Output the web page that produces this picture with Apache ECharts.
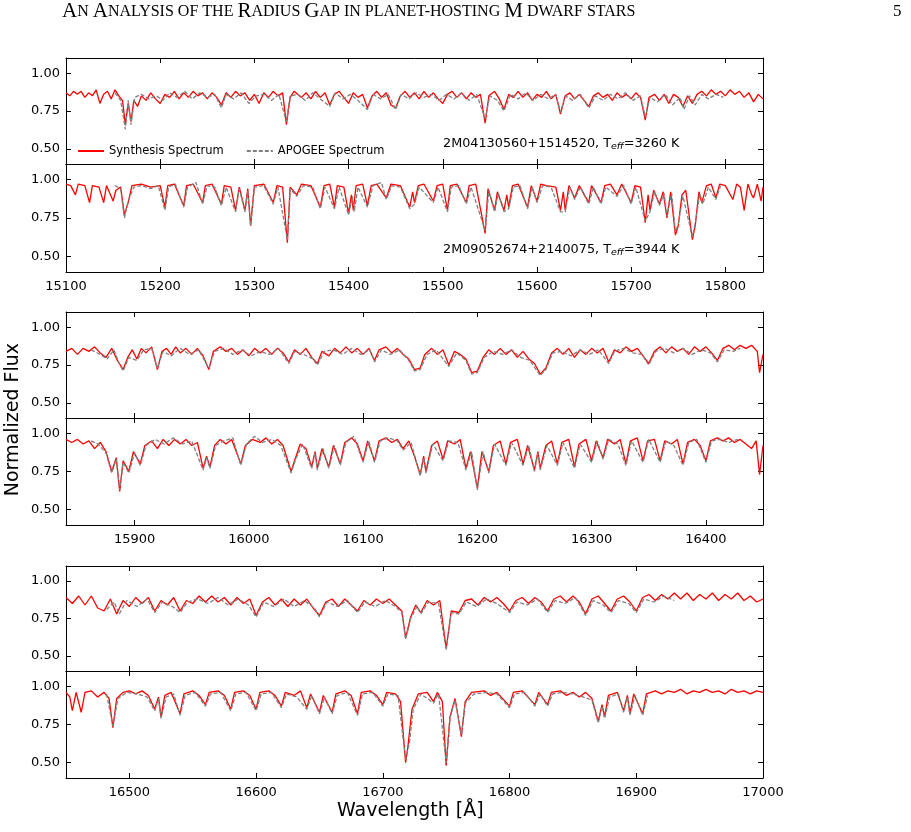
<!DOCTYPE html>
<html>
<head>
<meta charset="utf-8">
<script src="https://cdn.jsdelivr.net/npm/echarts@6/dist/echarts.min.js"></script>
<style>html,body{margin:0;background:#fff}#main{width:911px;height:832px}</style>
</head>
<body>
<div id="main"></div>
<script>
// wavelength ranges of the three rows
var ranges = [[15100, 15840], [15840, 16450], [16450, 17000]];
var xTicks = [
    [15100, 15200, 15300, 15400, 15500, 15600, 15700, 15800],
    [15900, 16000, 16100, 16200, 16300, 16400],
    [16500, 16600, 16700, 16800, 16900, 17000]
];
var yTicks = [0.5, 0.75, 1.0];
var starNames = ['2M04130560+1514520', '2M09052674+2140075'];
var starTeff = [3260, 3944];

// synthesis spectra, [wavelength, flux]; cool star (A) and warm star (B)
var synthA1 = [[15100,.87],[15104,.85],[15108,.88],[15112,.86],[15116,.88],[15120,.84],[15124,.87],[15128,.85],[15132,.89],[15136,.80],[15140,.86],[15144,.88],[15148,.83],[15152,.89],[15156,.85],[15160,.82],[15163,.66],[15166,.80],[15169,.68],[15172,.82],[15176,.78],[15180,.85],[15185,.82],[15190,.87],[15195,.83],[15200,.80],[15205,.86],[15210,.84],[15215,.88],[15220,.83],[15225,.87],[15230,.84],[15235,.88],[15240,.85],[15245,.87],[15250,.83],[15255,.87],[15260,.84],[15265,.79],[15270,.87],[15275,.84],[15280,.88],[15285,.85],[15290,.87],[15295,.82],[15300,.86],[15305,.80],[15310,.87],[15315,.84],[15320,.88],[15325,.85],[15330,.87],[15334,.66],[15338,.84],[15342,.88],[15350,.84],[15355,.87],[15360,.83],[15365,.88],[15370,.84],[15375,.87],[15380,.79],[15385,.86],[15390,.88],[15395,.84],[15400,.80],[15405,.87],[15410,.84],[15415,.86],[15420,.77],[15425,.85],[15430,.88],[15435,.84],[15440,.87],[15445,.79],[15450,.77],[15455,.85],[15460,.88],[15465,.84],[15470,.87],[15475,.83],[15480,.88],[15485,.84],[15490,.87],[15495,.83],[15500,.80],[15505,.86],[15510,.88],[15515,.84],[15520,.87],[15525,.83],[15530,.87],[15535,.84],[15540,.86],[15545,.67],[15549,.85],[15555,.88],[15560,.83],[15565,.76],[15570,.86],[15575,.84],[15580,.88],[15585,.84],[15590,.87],[15595,.82],[15600,.86],[15605,.84],[15610,.88],[15615,.83],[15620,.86],[15625,.73],[15630,.85],[15635,.87],[15640,.83],[15645,.86],[15650,.82],[15655,.78],[15660,.85],[15665,.87],[15670,.84],[15675,.86],[15680,.82],[15685,.87],[15690,.84],[15695,.86],[15700,.83],[15705,.87],[15710,.84],[15715,.69],[15719,.84],[15725,.86],[15730,.82],[15735,.86],[15740,.80],[15745,.86],[15750,.84],[15755,.78],[15760,.85],[15765,.80],[15770,.86],[15775,.88],[15780,.85],[15785,.89],[15790,.86],[15795,.88],[15800,.85],[15805,.89],[15810,.86],[15815,.88],[15820,.84],[15825,.87],[15830,.81],[15835,.86],[15840,.83]];
var synthB1 = [[15100,.97],[15105,.96],[15110,.90],[15113,.97],[15120,.96],[15125,.85],[15128,.96],[15135,.95],[15140,.85],[15143,.96],[15150,.86],[15153,.93],[15158,.95],[15162,.77],[15166,.85],[15170,.96],[15180,.97],[15190,.95],[15200,.96],[15205,.82],[15208,.96],[15215,.97],[15225,.83],[15228,.96],[15235,.97],[15245,.85],[15248,.96],[15255,.97],[15265,.84],[15268,.96],[15275,.95],[15280,.80],[15284,.95],[15290,.80],[15293,.94],[15296,.70],[15300,.96],[15310,.97],[15320,.85],[15324,.96],[15330,.95],[15335,.59],[15338,.95],[15345,.90],[15350,.97],[15360,.96],[15370,.82],[15374,.96],[15380,.97],[15385,.82],[15388,.96],[15395,.95],[15400,.78],[15403,.90],[15405,.80],[15408,.96],[15415,.97],[15420,.83],[15424,.96],[15430,.97],[15440,.88],[15445,.97],[15455,.96],[15465,.82],[15468,.92],[15470,.85],[15474,.96],[15480,.97],[15490,.86],[15494,.96],[15500,.97],[15505,.80],[15508,.96],[15515,.97],[15525,.85],[15528,.96],[15535,.97],[15545,.65],[15548,.94],[15555,.80],[15558,.92],[15565,.80],[15568,.90],[15570,.82],[15574,.96],[15580,.97],[15590,.82],[15594,.96],[15600,.86],[15604,.97],[15610,.96],[15620,.95],[15625,.80],[15628,.92],[15630,.80],[15634,.96],[15640,.88],[15645,.96],[15655,.85],[15658,.96],[15668,.85],[15672,.96],[15678,.97],[15685,.90],[15690,.97],[15700,.85],[15704,.96],[15710,.95],[15715,.72],[15718,.90],[15720,.80],[15724,.93],[15730,.84],[15734,.92],[15738,.75],[15742,.92],[15747,.64],[15750,.70],[15754,.90],[15758,.93],[15765,.61],[15768,.70],[15772,.92],[15775,.85],[15780,.96],[15785,.97],[15790,.88],[15794,.97],[15800,.96],[15808,.87],[15812,.97],[15816,.95],[15820,.80],[15824,.97],[15828,.90],[15830,.88],[15834,.97],[15838,.86],[15840,.95]];
var synthA2 = [[15840,.84],[15845,.86],[15850,.82],[15855,.86],[15860,.84],[15865,.87],[15870,.83],[15875,.80],[15880,.86],[15885,.78],[15890,.72],[15894,.80],[15898,.85],[15902,.79],[15906,.86],[15910,.83],[15915,.87],[15920,.72],[15924,.84],[15928,.86],[15932,.82],[15936,.87],[15940,.83],[15945,.86],[15950,.82],[15955,.86],[15960,.81],[15965,.72],[15969,.84],[15975,.87],[15980,.84],[15985,.86],[15990,.82],[15995,.85],[16000,.81],[16005,.86],[16010,.83],[16015,.86],[16020,.82],[16025,.86],[16030,.83],[16035,.77],[16040,.85],[16045,.82],[16050,.86],[16055,.80],[16060,.76],[16064,.84],[16070,.81],[16075,.86],[16080,.83],[16085,.87],[16090,.83],[16095,.86],[16100,.82],[16105,.86],[16110,.78],[16114,.85],[16120,.87],[16125,.83],[16130,.86],[16135,.82],[16140,.79],[16145,.72],[16150,.73],[16154,.82],[16160,.86],[16165,.82],[16170,.85],[16175,.75],[16180,.84],[16185,.82],[16190,.79],[16195,.70],[16200,.71],[16205,.80],[16210,.85],[16215,.82],[16220,.86],[16225,.82],[16230,.85],[16235,.80],[16240,.84],[16245,.79],[16250,.76],[16255,.69],[16260,.73],[16265,.83],[16270,.86],[16275,.82],[16280,.86],[16285,.80],[16290,.85],[16295,.82],[16300,.86],[16305,.83],[16310,.86],[16315,.77],[16320,.85],[16325,.83],[16330,.87],[16335,.84],[16340,.86],[16345,.81],[16350,.76],[16355,.84],[16360,.87],[16365,.83],[16370,.87],[16375,.84],[16380,.86],[16385,.82],[16390,.87],[16395,.84],[16400,.87],[16405,.83],[16410,.78],[16415,.86],[16420,.88],[16425,.85],[16430,.88],[16435,.86],[16440,.88],[16445,.84],[16447,.70],[16450,.82]];
var synthB2 = [[15840,.96],[15845,.94],[15850,.96],[15855,.93],[15860,.95],[15865,.90],[15870,.94],[15875,.88],[15880,.75],[15884,.84],[15887,.62],[15890,.82],[15895,.75],[15899,.88],[15905,.80],[15909,.92],[15915,.95],[15920,.90],[15925,.96],[15930,.92],[15935,.96],[15940,.93],[15945,.96],[15950,.92],[15955,.94],[15960,.77],[15963,.85],[15966,.78],[15970,.92],[15975,.96],[15980,.93],[15985,.96],[15993,.80],[15997,.92],[16003,.96],[16010,.94],[16015,.97],[16020,.93],[16025,.96],[16030,.92],[16037,.75],[16040,.82],[16045,.93],[16050,.90],[16055,.78],[16058,.88],[16060,.77],[16064,.90],[16070,.78],[16074,.92],[16080,.80],[16084,.94],[16090,.97],[16095,.93],[16100,.82],[16104,.95],[16110,.82],[16114,.95],[16120,.97],[16125,.94],[16130,.96],[16135,.90],[16140,.95],[16145,.85],[16150,.73],[16153,.85],[16155,.75],[16160,.92],[16165,.95],[16170,.83],[16174,.95],[16180,.93],[16185,.96],[16190,.77],[16194,.88],[16200,.64],[16204,.88],[16210,.75],[16214,.92],[16220,.95],[16225,.80],[16229,.94],[16235,.96],[16240,.80],[16244,.92],[16250,.76],[16253,.88],[16255,.77],[16260,.92],[16265,.95],[16270,.80],[16274,.94],[16280,.96],[16285,.78],[16289,.93],[16295,.96],[16300,.82],[16304,.95],[16310,.84],[16314,.96],[16320,.93],[16325,.96],[16330,.80],[16334,.95],[16340,.97],[16345,.82],[16349,.95],[16355,.96],[16360,.82],[16364,.95],[16370,.93],[16375,.96],[16380,.80],[16384,.94],[16390,.96],[16395,.92],[16400,.82],[16404,.95],[16410,.97],[16415,.95],[16420,.97],[16425,.94],[16430,.96],[16435,.93],[16440,.90],[16444,.95],[16447,.73],[16450,.92]];
var synthA3 = [[16450,.89],[16455,.85],[16460,.90],[16465,.84],[16470,.90],[16475,.82],[16480,.80],[16485,.88],[16490,.78],[16495,.87],[16500,.83],[16505,.89],[16510,.85],[16515,.89],[16520,.80],[16525,.87],[16530,.84],[16535,.89],[16540,.80],[16545,.87],[16550,.85],[16555,.90],[16560,.86],[16565,.90],[16570,.86],[16575,.89],[16580,.84],[16585,.89],[16590,.85],[16595,.88],[16600,.77],[16605,.86],[16610,.89],[16615,.84],[16620,.88],[16625,.83],[16630,.88],[16635,.84],[16640,.88],[16645,.82],[16650,.77],[16655,.86],[16660,.88],[16665,.83],[16670,.88],[16675,.84],[16680,.80],[16685,.87],[16690,.84],[16695,.88],[16700,.85],[16705,.88],[16710,.84],[16715,.80],[16718,.62],[16722,.76],[16726,.84],[16730,.79],[16735,.87],[16740,.84],[16745,.87],[16750,.55],[16754,.80],[16760,.79],[16765,.87],[16770,.88],[16775,.84],[16780,.89],[16785,.86],[16790,.89],[16795,.85],[16800,.80],[16805,.87],[16810,.89],[16815,.85],[16820,.89],[16825,.86],[16830,.80],[16835,.88],[16840,.90],[16845,.86],[16850,.90],[16855,.86],[16860,.78],[16865,.88],[16870,.90],[16875,.85],[16880,.80],[16885,.88],[16890,.90],[16895,.86],[16900,.80],[16905,.89],[16910,.91],[16915,.87],[16920,.91],[16925,.88],[16930,.92],[16935,.88],[16940,.92],[16945,.87],[16950,.91],[16955,.88],[16960,.92],[16965,.87],[16970,.91],[16975,.88],[16980,.92],[16985,.87],[16990,.90],[16995,.86],[17000,.88]];
var synthB3 = [[16450,.96],[16453,.93],[16455,.84],[16458,.96],[16462,.83],[16465,.96],[16470,.97],[16475,.93],[16480,.96],[16484,.92],[16487,.73],[16490,.92],[16495,.96],[16500,.97],[16505,.95],[16510,.97],[16515,.94],[16520,.85],[16523,.93],[16525,.80],[16528,.94],[16533,.96],[16540,.82],[16543,.95],[16550,.97],[16555,.94],[16560,.88],[16563,.96],[16570,.97],[16575,.94],[16580,.85],[16583,.96],[16590,.97],[16595,.94],[16600,.85],[16603,.96],[16610,.97],[16615,.94],[16620,.87],[16623,.96],[16630,.94],[16635,.97],[16640,.86],[16643,.95],[16650,.83],[16653,.94],[16660,.83],[16663,.95],[16670,.97],[16675,.94],[16680,.82],[16683,.96],[16690,.97],[16695,.94],[16700,.88],[16703,.96],[16710,.95],[16714,.90],[16718,.50],[16720,.62],[16723,.85],[16728,.95],[16735,.96],[16740,.90],[16743,.96],[16747,.90],[16750,.48],[16753,.80],[16757,.92],[16762,.67],[16765,.90],[16770,.96],[16780,.97],[16785,.94],[16790,.96],[16800,.87],[16803,.96],[16810,.97],[16820,.88],[16823,.96],[16830,.88],[16833,.96],[16840,.97],[16845,.94],[16850,.96],[16855,.93],[16860,.96],[16865,.92],[16870,.77],[16873,.88],[16875,.80],[16878,.94],[16885,.96],[16890,.84],[16893,.94],[16895,.82],[16898,.95],[16905,.82],[16908,.95],[16915,.97],[16920,.95],[16925,.97],[16930,.96],[16935,.98],[16940,.95],[16945,.97],[16950,.96],[16955,.98],[16960,.96],[16965,.97],[16970,.95],[16975,.98],[16980,.96],[16985,.97],[16990,.95],[16995,.97],[17000,.96]];

// APOGEE observed spectra (with chip gaps)
var apogeeA1 = [[15152,.87],[15158,.82],[15163,.63],[15166,.82],[15169,.66],[15173,.84],[15180,.86],[15188,.83],[15196,.85],[15203,.82],[15210,.87],[15218,.84],[15226,.88],[15234,.83],[15242,.87],[15250,.84],[15258,.86],[15265,.77],[15270,.86],[15278,.83],[15286,.87],[15294,.80],[15302,.85],[15310,.86],[15318,.82],[15326,.86],[15334,.68],[15338,.85],[15346,.86],[15354,.82],[15362,.87],[15370,.83],[15380,.78],[15386,.87],[15394,.83],[15402,.86],[15410,.82],[15420,.76],[15426,.86],[15434,.83],[15442,.86],[15450,.76],[15456,.86],[15464,.83],[15472,.87],[15480,.84],[15488,.86],[15496,.82],[15504,.86],[15512,.83],[15520,.87],[15528,.82],[15536,.86],[15545,.70],[15550,.85],[15558,.82],[15565,.75],[15572,.86],[15580,.83],[15588,.87],[15596,.82],[15604,.86],[15612,.83],[15620,.86],[15625,.74],[15630,.85],[15638,.82],[15646,.86],[15655,.77],[15662,.85],[15670,.82],[15678,.86],[15686,.83],[15694,.87],[15702,.82],[15710,.85],[15715,.71],[15720,.84],[15728,.81],[15736,.86],[15744,.79],[15752,.84],[15756,.76],[15762,.85],[15768,.79],[15775,.86],[15782,.83],[15790,.86],[15798,.84]];
var apogeeB1 = [[15152,.96],[15158,.94],[15162,.75],[15166,.86],[15172,.95],[15180,.96],[15190,.94],[15198,.96],[15205,.80],[15209,.95],[15216,.97],[15225,.82],[15229,.95],[15238,.98],[15245,.84],[15250,.96],[15258,.95],[15265,.83],[15270,.95],[15280,.79],[15284,.94],[15290,.79],[15293,.93],[15296,.70],[15300,.95],[15310,.96],[15320,.84],[15325,.95],[15335,.61],[15338,.94],[15345,.89],[15352,.96],[15362,.95],[15370,.81],[15375,.95],[15385,.81],[15390,.95],[15400,.77],[15404,.89],[15406,.79],[15410,.95],[15420,.82],[15426,.96],[15435,.98],[15440,.87],[15446,.96],[15455,.95],[15465,.81],[15470,.84],[15475,.95],[15490,.85],[15495,.95],[15505,.79],[15509,.95],[15517,.96],[15525,.84],[15530,.95],[15545,.67],[15549,.93],[15555,.79],[15559,.91],[15565,.79],[15570,.81],[15575,.95],[15582,.96],[15590,.81],[15595,.95],[15600,.85],[15606,.96],[15615,.95],[15625,.79],[15630,.79],[15635,.95],[15640,.87],[15646,.95],[15655,.84],[15660,.95],[15668,.84],[15673,.95],[15685,.89],[15692,.96],[15700,.84],[15705,.95],[15715,.73],[15720,.79],[15725,.92],[15730,.83],[15735,.91],[15738,.76],[15743,.91],[15747,.66],[15750,.71],[15755,.89],[15765,.63],[15768,.71],[15773,.91],[15776,.84],[15782,.95],[15790,.87],[15795,.96]];
var apogeeA2 = [[15862,.85],[15870,.82],[15876,.79],[15882,.85],[15886,.77],[15890,.71],[15895,.80],[15902,.78],[15908,.85],[15915,.86],[15920,.73],[15925,.84],[15932,.81],[15940,.86],[15948,.82],[15956,.85],[15965,.73],[15970,.84],[15978,.86],[15986,.82],[15994,.85],[16002,.81],[16010,.84],[16018,.82],[16026,.86],[16035,.76],[16040,.84],[16048,.82],[16056,.79],[16060,.75],[16066,.84],[16074,.85],[16082,.82],[16090,.86],[16098,.82],[16106,.85],[16110,.77],[16116,.85],[16124,.82],[16132,.85],[16140,.78],[16145,.71],[16150,.72],[16156,.82],[16164,.85],[16175,.74],[16182,.83],[16190,.78],[16195,.69],[16200,.70],[16206,.80],[16214,.84],[16222,.82],[16230,.85],[16238,.80],[16246,.78],[16255,.68],[16260,.72],[16266,.83],[16274,.84],[16282,.81],[16290,.85],[16298,.82],[16306,.85],[16315,.76],[16320,.84],[16328,.86],[16336,.83],[16344,.82],[16350,.75],[16356,.84],[16364,.86],[16372,.83],[16380,.86],[16388,.82],[16396,.85],[16404,.83],[16410,.77],[16416,.85],[16424,.84],[16430,.86]];
var apogeeB2 = [[15862,.95],[15868,.93],[15875,.87],[15880,.74],[15884,.83],[15887,.63],[15890,.81],[15895,.74],[15900,.87],[15905,.79],[15910,.92],[15918,.96],[15926,.93],[15934,.97],[15942,.93],[15950,.95],[15960,.76],[15963,.84],[15966,.77],[15971,.92],[15978,.95],[15986,.97],[15993,.79],[15998,.93],[16005,.98],[16012,.94],[16020,.96],[16028,.92],[16037,.74],[16041,.83],[16047,.93],[16055,.77],[16058,.87],[16060,.76],[16065,.90],[16070,.77],[16075,.92],[16080,.79],[16085,.94],[16092,.98],[16100,.81],[16105,.95],[16110,.81],[16115,.95],[16122,.97],[16130,.95],[16135,.89],[16142,.94],[16150,.72],[16153,.84],[16155,.74],[16161,.93],[16170,.82],[16175,.95],[16183,.94],[16190,.76],[16195,.88],[16200,.63],[16205,.88],[16210,.74],[16215,.93],[16225,.79],[16230,.94],[16240,.79],[16245,.92],[16250,.75],[16253,.87],[16255,.76],[16261,.92],[16270,.79],[16275,.94],[16285,.77],[16290,.93],[16300,.81],[16305,.95],[16310,.83],[16315,.96],[16323,.93],[16330,.79],[16335,.95],[16345,.81],[16350,.96],[16360,.81],[16365,.95],[16372,.92],[16380,.79],[16385,.94],[16392,.96],[16400,.81],[16405,.95],[16412,.96],[16420,.94],[16428,.96]];
var apogeeA3 = [[16482,.81],[16488,.86],[16492,.78],[16498,.87],[16506,.83],[16514,.88],[16520,.79],[16526,.86],[16534,.83],[16540,.79],[16546,.86],[16554,.88],[16562,.85],[16570,.89],[16578,.84],[16586,.88],[16594,.84],[16600,.76],[16606,.86],[16614,.83],[16622,.88],[16630,.83],[16638,.87],[16646,.82],[16650,.76],[16656,.86],[16664,.83],[16672,.87],[16680,.79],[16686,.86],[16694,.83],[16702,.87],[16710,.83],[16715,.79],[16718,.61],[16722,.75],[16727,.83],[16730,.78],[16736,.86],[16744,.85],[16750,.54],[16754,.79],[16760,.78],[16766,.86],[16774,.83],[16782,.88],[16790,.85],[16800,.79],[16806,.86],[16814,.84],[16822,.88],[16830,.79],[16836,.87],[16844,.85],[16852,.89],[16860,.77],[16866,.87],[16874,.84],[16880,.79],[16886,.87],[16894,.85],[16900,.79],[16906,.88],[16914,.86],[16922,.90],[16930,.87]];
var apogeeB3 = [[16482,.95],[16487,.74],[16491,.92],[16498,.96],[16506,.95],[16514,.93],[16520,.84],[16523,.92],[16525,.79],[16529,.93],[16535,.95],[16540,.81],[16544,.94],[16552,.96],[16560,.87],[16564,.95],[16572,.96],[16580,.84],[16584,.95],[16592,.96],[16600,.84],[16604,.95],[16612,.96],[16620,.86],[16624,.95],[16632,.93],[16640,.85],[16644,.94],[16650,.82],[16654,.93],[16660,.82],[16664,.94],[16672,.96],[16680,.81],[16684,.95],[16692,.96],[16700,.87],[16704,.95],[16712,.94],[16718,.52],[16721,.63],[16724,.85],[16730,.95],[16740,.89],[16744,.95],[16750,.50],[16753,.79],[16757,.91],[16762,.68],[16765,.89],[16772,.95],[16782,.96],[16790,.95],[16800,.86],[16804,.95],[16812,.96],[16820,.87],[16824,.95],[16830,.87],[16834,.95],[16842,.96],[16850,.95],[16858,.93],[16865,.91],[16870,.76],[16873,.87],[16875,.79],[16879,.93],[16886,.95],[16890,.83],[16893,.93],[16895,.81],[16899,.94],[16905,.81],[16909,.94]];

var synth = [synthA1, synthB1, synthA2, synthB2, synthA3, synthB3];
var apogee = [apogeeA1, apogeeB1, apogeeA2, apogeeB2, apogeeA3, apogeeB3];

var chart = echarts.init(document.getElementById('main'));
var gridTops = [58, 164, 312, 418, 566, 671];
var gridHeights = [106, 108, 106, 107, 105, 107];
var font = 'DejaVu Sans';

var grids = [], xAxes = [], yAxes = [], series = [];
gridTops.forEach(function (top, i) {
    var row = Math.floor(i / 2);
    var showLabels = (i % 2 === 1);
    grids.push({ left: 66, right: 148, top: top, height: gridHeights[i] });
    var xBase = {
        type: 'value', gridIndex: i, min: ranges[row][0], max: ranges[row][1],
        splitLine: { show: false },
        axisLine: { onZero: false, lineStyle: { color: '#000', width: 1 } },
        axisTick: { inside: true, length: 5, customValues: xTicks[row], lineStyle: { color: '#000' } }
    };
    xAxes.push(Object.assign({}, xBase, {
        position: 'bottom',
        axisLabel: { show: showLabels, customValues: xTicks[row], color: '#000', fontFamily: font, fontSize: 13, margin: 8,
            formatter: function (v) { return String(v); } }
    }));
    xAxes.push(Object.assign({}, xBase, { position: 'top', axisLabel: { show: false } }));
    var yBase = {
        type: 'value', gridIndex: i, min: 0.4, max: 1.1,
        splitLine: { show: false },
        axisLine: { onZero: false, lineStyle: { color: '#000', width: 1 } },
        axisTick: { inside: true, length: 5, customValues: yTicks, lineStyle: { color: '#000' } }
    };
    yAxes.push(Object.assign({}, yBase, {
        position: 'left',
        axisLabel: { customValues: yTicks, color: '#000', fontFamily: font, fontSize: 13, margin: 6,
            formatter: function (v) { return v.toFixed(2); } }
    }));
    yAxes.push(Object.assign({}, yBase, { position: 'right', axisLabel: { show: false } }));

    series.push({
        name: 'Synthesis Spectrum', type: 'line', xAxisIndex: 2 * i, yAxisIndex: 2 * i,
        data: synth[i], symbol: 'none', lineStyle: { color: '#ff0000', width: 1.3 }, itemStyle: { color: '#ff0000' }, z: 2
    });
    series.push({
        name: 'APOGEE Spectrum', type: 'line', xAxisIndex: 2 * i, yAxisIndex: 2 * i,
        data: apogee[i], symbol: 'none', lineStyle: { color: '#808080', width: 1.3, type: [4, 2] }, itemStyle: { color: '#808080' }, z: 3
    });
});

function starLabel(k) {
    return '{n|' + starNames[k] + ', T}{s|eff}{n|=' + starTeff[k] + ' K}';
}
var labelRich = {
    n: { fontFamily: font, fontSize: 12.8, color: '#000' },
    s: { fontFamily: font, fontSize: 9.5, fontStyle: 'italic', color: '#000', padding: [6, 0, 0, 0] }
};

var option = {
    animation: false,
    backgroundColor: '#fff',
    grid: grids,
    xAxis: xAxes,
    yAxis: yAxes,
    legend: {
        left: 72, top: 140, itemWidth: 26, itemHeight: 10, itemGap: 22,
        itemStyle: { opacity: 0 },
        textStyle: { fontFamily: font, fontSize: 11.5, color: '#000' },
        data: ['Synthesis Spectrum', 'APOGEE Spectrum']
    },
    graphic: [
        { type: 'text', left: 62, top: 1, style: {
            rich: {
                b: { fontFamily: 'Liberation Serif', fontSize: 21, fill: '#000' },
                s: { fontFamily: 'Liberation Serif', fontSize: 16, fill: '#000' }
            },
            text: '{b|A}{s|N }{b|A}{s|NALYSIS OF THE }{b|R}{s|ADIUS }{b|G}{s|AP IN PLANET-HOSTING }{b|M}{s| DWARF STARS}'
        } },
        { type: 'text', left: 893, top: 3, style: { text: '5', fontFamily: 'Liberation Serif', fontSize: 17, fill: '#000' } },
        { type: 'text', left: 443, top: 137, style: { text: starLabel(0), rich: labelRich } },
        { type: 'text', left: 443, top: 243, style: { text: starLabel(1), rich: labelRich } },
        { type: 'text', left: 4, top: 343, rotation: Math.PI / 2, style: { text: 'Normalized Flux', fontFamily: font, fontSize: 19, fill: '#000' } },
        { type: 'text', left: 337, top: 802, style: { text: 'Wavelength [Å]', fontFamily: font, fontSize: 19, fill: '#000' } }
    ],
    series: series
};

if (option && typeof option === "object") {
    chart.setOption(option, true);
}
</script>
</body>
</html>
